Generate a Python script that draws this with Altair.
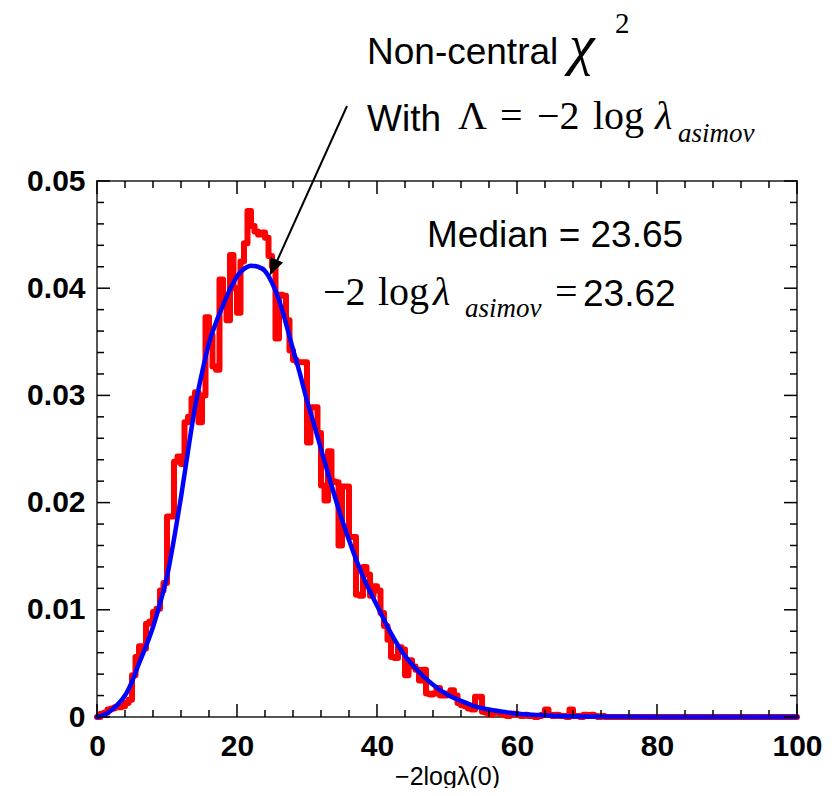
import altair as alt
import pandas as pd

# ---------------- data ----------------
BIN_WIDTH = 0.5  # histogram bins of 0.5 on [0, 100]
red_hist = [
    0.0000, 0.0003, 0.0004, 0.0007, 0.0008, 0.0009, 0.0009, 0.0010, 0.0013, 0.0016,
    0.0039, 0.0056, 0.0066, 0.0064, 0.0087, 0.0089, 0.0098, 0.0101, 0.0118, 0.0125,
    0.0187, 0.0187, 0.0238, 0.0243, 0.0236, 0.0275, 0.0280, 0.0297, 0.0303, 0.0275,
    0.0300, 0.0373, 0.0356, 0.0327, 0.0324, 0.0408, 0.0390, 0.0370, 0.0431, 0.0400,
    0.0377, 0.0425, 0.0442, 0.0472, 0.0458, 0.0453, 0.0450, 0.0452, 0.0447, 0.0430,
    0.0420, 0.0353, 0.0394, 0.0393, 0.0370, 0.0342, 0.0333, 0.0331, 0.0331, 0.0331,
    0.0256, 0.0289, 0.0289, 0.0265, 0.0216, 0.0202, 0.0248, 0.0220, 0.0219, 0.0160,
    0.0215, 0.0215, 0.0168, 0.0168, 0.0114, 0.0113, 0.0140, 0.0133, 0.0113, 0.0122,
    0.0118, 0.0097, 0.0085, 0.0072, 0.0056, 0.0055, 0.0065, 0.0063, 0.0039, 0.0053,
    0.0047, 0.0044, 0.0034, 0.0044, 0.0022, 0.0021, 0.0022, 0.0027, 0.0020, 0.0020,
    0.0022, 0.0025, 0.0020, 0.0013, 0.0011, 0.0010, 0.0008, 0.0007, 0.0019, 0.0019,
    0.0005, 0.0004, 0.0002, 0.0005, 0.0004, 0.0003, 0.0002, 0.0001, 0.0003, 0.0003,
    0.0002, 0.0001, 0.0002, 0.0001, 0.0001, 0.0000, 0.0001, 0.0002, 0.0007, 0.0002,
    0.0001, 0.0002, 0.0001, 0.0001, 0.0000, 0.0007, 0.0001, 0.0001, 0.0000, 0.0002,
    0.0001, 0.0002, 0.0001, 0.0000, 0.0001, 0.0000, 0.0000, 0.0000, 0.0000, 0.0000,
    0.0000, 0.0000, 0.0000, 0.0000, 0.0000, 0.0000, 0.0000, 0.0000, 0.0000, 0.0000,
    0.0000, 0.0000, 0.0000, 0.0000, 0.0000, 0.0000, 0.0000, 0.0000, 0.0000, 0.0000,
    0.0000, 0.0000, 0.0000, 0.0000, 0.0000, 0.0000, 0.0000, 0.0000, 0.0000, 0.0000,
    0.0000, 0.0000, 0.0000, 0.0000, 0.0000, 0.0000, 0.0000, 0.0000, 0.0000, 0.0000,
    0.0000, 0.0000, 0.0000, 0.0000, 0.0000, 0.0000, 0.0000, 0.0000, 0.0000, 0.0000,
]

curve_x = [0, 1, 2, 3, 4, 5, 6, 7, 8, 9, 10, 11, 12, 13, 14, 15, 16, 17, 18, 19,
           20, 21, 22, 23, 24, 25, 26, 27, 28, 29, 30, 31, 32, 33, 34, 35, 36, 37,
           38, 39, 40, 42, 44, 46, 48, 50, 52, 54, 56, 58, 60, 63, 66, 70, 80, 90, 100]
curve_y = [0.0000, 0.0002, 0.0006, 0.0012, 0.0020, 0.0033, 0.0050, 0.0066, 0.0084,
           0.0106, 0.0131, 0.0166, 0.0205, 0.0248, 0.0289, 0.0321, 0.0349, 0.0368,
           0.0384, 0.0399, 0.0411, 0.0418, 0.0421, 0.0420, 0.0416, 0.0405, 0.0389,
           0.0367, 0.0343, 0.0320, 0.0295, 0.0273, 0.0250, 0.0227, 0.0205, 0.0184,
           0.0165, 0.0147, 0.0131, 0.0117, 0.0104, 0.0078, 0.0057, 0.0042, 0.0030,
           0.0021, 0.0015, 0.0010, 0.0007, 0.0005, 0.0003, 0.00018, 0.0001, 0.00005,
           0.00001, 0.0, 0.0]

x_major = [0, 20, 40, 60, 80, 100]
x_minor = [4, 8, 12, 16, 24, 28, 32, 36, 44, 48, 52, 56, 64, 68, 72, 76, 84, 88, 92, 96]
y_major = [0, 0.01, 0.02, 0.03, 0.04, 0.05]
y_minor = [0.002, 0.004, 0.006, 0.008, 0.012, 0.014, 0.016, 0.018, 0.022, 0.024,
           0.026, 0.028, 0.032, 0.034, 0.036, 0.038, 0.042, 0.044, 0.046, 0.048]

# ---------------- tables ----------------
edges = [i * BIN_WIDTH for i in range(len(red_hist))] + [100]
hist_df = pd.DataFrame({"x": edges, "y": red_hist + [red_hist[-1]]})
curve_df = pd.DataFrame({"x": curve_x, "y": curve_y})

W, H = 700, 536
SANS = "Liberation Sans"
SERIF = "Liberation Serif"

xs = alt.Scale(domain=[0, 100], nice=False, zero=False)
ys = alt.Scale(domain=[0, 0.05], nice=False)

x_axis = alt.Axis(values=x_major, ticks=False, domain=False, grid=False,
                  labelFont=SANS, labelFontWeight="bold", labelFontSize=30,
                  labelColor="black", labelPadding=14, labelFlush=False,
                  title="−2logλ(0)", titleFont=SANS, titleFontWeight="normal",
                  titleFontSize=25, titleColor="black", titlePadding=3)
y_axis = alt.Axis(values=y_major, ticks=False, domain=False, grid=False,
                  labelFont=SANS, labelFontWeight="bold", labelFontSize=30,
                  labelColor="black", labelPadding=12, labelFlush=False,
                  labelExpr="datum.value == 0 ? '0' : format(datum.value, '.2f')",
                  title=None)

hist = alt.Chart(hist_df).mark_line(
    color="#ff0000", strokeWidth=6, interpolate="step-after",
    strokeJoin="round", strokeCap="round"
).encode(x=alt.X("x:Q", scale=xs, axis=x_axis),
         y=alt.Y("y:Q", scale=ys, axis=y_axis))

curve = alt.Chart(curve_df).mark_line(
    color="#0000ff", strokeWidth=4.5, interpolate="monotone", strokeCap="round"
).encode(x=alt.X("x:Q", scale=xs), y=alt.Y("y:Q", scale=ys))

# inward ticks on all four sides
def xticks(vals, length):
    df = pd.DataFrame({"x": vals})
    bot = alt.Chart(df).mark_rule(color="black", strokeWidth=1.5).encode(
        x=alt.X("x:Q", scale=xs), y=alt.value(H), y2=alt.value(H - length))
    top = alt.Chart(df).mark_rule(color="black", strokeWidth=1.5).encode(
        x=alt.X("x:Q", scale=xs), y=alt.value(0), y2=alt.value(length))
    return [bot, top]

def yticks(vals, length):
    df = pd.DataFrame({"y": vals})
    left = alt.Chart(df).mark_rule(color="black", strokeWidth=1.5).encode(
        y=alt.Y("y:Q", scale=ys), x=alt.value(0), x2=alt.value(length))
    right = alt.Chart(df).mark_rule(color="black", strokeWidth=1.5).encode(
        y=alt.Y("y:Q", scale=ys), x=alt.value(W), x2=alt.value(W - length))
    return [left, right]

tick_layers = (xticks(x_major, 13) + xticks(x_minor, 7) +
               yticks(y_major, 13) + yticks(y_minor, 7))

# ---------------- annotations ----------------
def px2x(px):
    return (px - 97) / 7.0

def px2y(py):
    return (717 - py) / 10720.0

labels = [
    # text, left px, baseline px, font, size, style
    ("Non-central", 367, 64, SANS, 37, "normal"),
    ("χ", 569, 64, SERIF, 58, "italic"),
    ("2", 615, 33, SERIF, 29, "normal"),
    ("With", 367, 131, SANS, 37, "normal"),
    ("Λ", 458, 129, SERIF, 40, "normal"),
    ("=", 500, 129, SERIF, 40, "normal"),
    ("−2", 537, 129, SERIF, 40, "normal"),
    ("log", 593, 129, SERIF, 40, "normal"),
    ("λ", 655, 129, SERIF, 40, "italic"),
    ("asimov", 678, 142, SERIF, 27, "italic"),
    ("Median = 23.65", 427, 247, SANS, 37, "normal"),
    ("−2", 323, 305, SERIF, 40, "normal"),
    ("log", 378, 305, SERIF, 40, "normal"),
    ("λ", 433, 305, SERIF, 40, "italic"),
    ("asimov", 465, 317, SERIF, 27, "italic"),
    ("=", 555, 305, SERIF, 40, "normal"),
    ("23.62", 583, 306, SANS, 37, "normal"),
]

text_layers = []
for t, lx, by, font, size, style in labels:
    df = pd.DataFrame({"x": [px2x(lx)], "y": [px2y(by)], "t": [t]})
    text_layers.append(
        alt.Chart(df).mark_text(align="left", baseline="alphabetic", font=font,
                                fontSize=size, fontStyle=style, color="black")
        .encode(x=alt.X("x:Q", scale=xs), y=alt.Y("y:Q", scale=ys), text="t:N"))

arrow_df = pd.DataFrame({"x": [px2x(347)], "y": [px2y(106)],
                         "x2": [px2x(277)], "y2": [px2y(261)]})
arrow_line = alt.Chart(arrow_df).mark_rule(color="black", strokeWidth=2).encode(
    x=alt.X("x:Q", scale=xs), y=alt.Y("y:Q", scale=ys), x2="x2:Q", y2="y2:Q")

head_df = pd.DataFrame({"x": [px2x(273.3)], "y": [px2y(267.6)]})
arrow_head = alt.Chart(head_df).mark_point(
    shape="M0,-1L0.8,1L-0.8,1Z", filled=True, color="black", opacity=1,
    size=300, angle=203.4
).encode(x=alt.X("x:Q", scale=xs), y=alt.Y("y:Q", scale=ys))

chart = alt.layer(hist, curve, *tick_layers, arrow_line, arrow_head, *text_layers).properties(
    width=W, height=H,
    padding={"left": 89, "top": 173, "right": 29, "bottom": 71},
    autosize=alt.AutoSizeParams(type="none"),
    background="white",
).configure_view(stroke="#555555", strokeWidth=2)

chart.save("out.html", embed_options={"renderer": "svg", "actions": False})
